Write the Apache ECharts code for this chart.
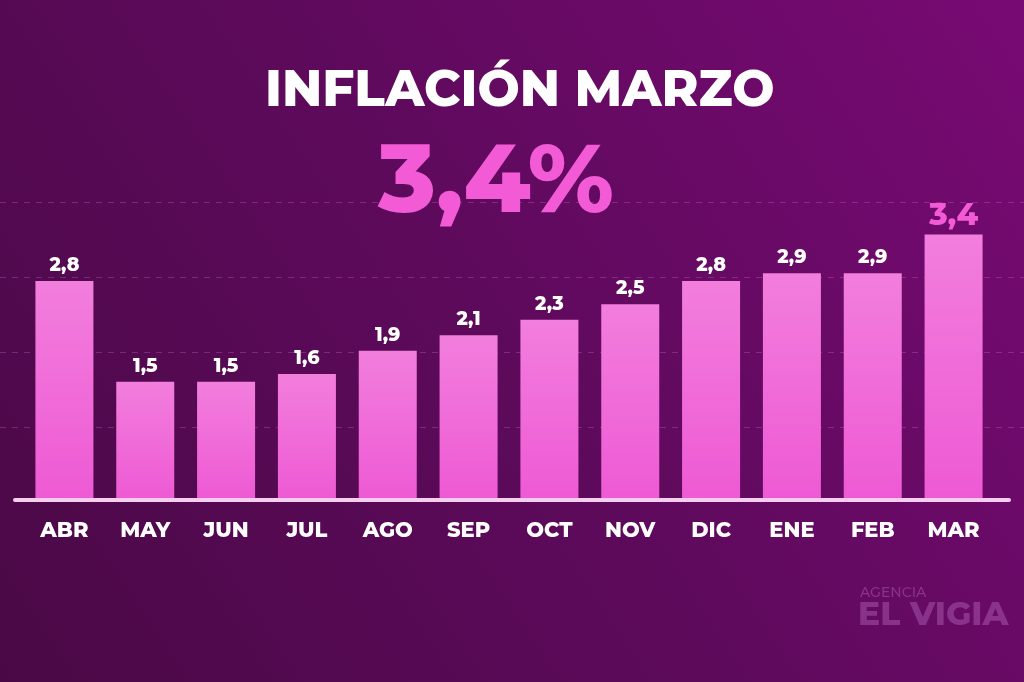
<!DOCTYPE html>
<html>
<head>
<meta charset="utf-8">
<script src="https://cdn.jsdelivr.net/npm/echarts@6/dist/echarts.min.js"></script>
<style>
html,body{margin:0;padding:0;background:#5a0a58;}
#chart{width:1024px;height:682px;}
</style>
</head>
<body>
<div id="chart"></div>
<script>
// Data
const months = ['ABR','MAY','JUN','JUL','AGO','SEP','OCT','NOV','DIC','ENE','FEB','MAR'];
const inflation = [2.8, 1.5, 1.5, 1.6, 1.9, 2.1, 2.3, 2.5, 2.8, 2.9, 2.9, 3.4];
const gridTicks = [0, 1, 2, 3, 4];
const titleText = 'INFLACIÓN MARZO';
const headlineText = '3,4%';

const FONT = '"Montserrat","Open Sans","Noto Sans",sans-serif';
const fmt = v => v.toFixed(1).replace('.', ',');
const lastIdx = inflation.length - 1;

const barData = inflation.map((v, i) => {
  if (i === lastIdx) {
    return {
      value: v,
      label: { color: '#f25ad6', fontSize: 31, fontWeight: 800, distance: 3 }
    };
  }
  return v;
});

const chart = echarts.init(document.getElementById('chart'), null, { renderer: 'canvas' });

chart.setOption({
  animation: false,
  backgroundColor: {
    type: 'linear', x: 0, y: 1, x2: 1, y2: 0,
    colorStops: [
      { offset: 0, color: '#4a0946' },
      { offset: 0.5, color: '#5e0a5c' },
      { offset: 1, color: '#780a74' }
    ]
  },
  graphic: [
    {
      type: 'text', left: 265, top: 66, z: 10,
      style: { text: titleText, fill: '#ffffff', font: '800 50px ' + FONT }
    },
    {
      type: 'text', top: 136, left: 378, z: 10,
      style: { text: headlineText, fill: '#f25ad6', font: '800 96px ' + FONT }
    },
    {
      type: 'text', left: 860, top: 586, z: 1,
      style: { text: 'AGENCIA', fill: 'rgba(190,110,200,0.40)', font: '500 14px ' + FONT }
    },
    {
      type: 'text', left: 858, top: 599, z: 1,
      style: { text: 'EL VIGIA', fill: 'rgba(190,110,200,0.40)', font: '800 33px ' + FONT }
    }
  ],
  grid: [
    { left: 0, right: 0, top: 202, bottom: 180 },
    { left: 15, right: 15, top: 188, bottom: 182 },
    { left: 24, right: 30, top: 188, bottom: 184 }
  ],
  xAxis: [
    { gridIndex: 0, type: 'category', data: months, show: false },
    {
      gridIndex: 1, type: 'category', data: months,
      axisLine: { show: true, lineStyle: { color: '#f7cdf0', width: 4 } },
      axisTick: { show: false }, axisLabel: { show: false }
    },
    {
      gridIndex: 2, type: 'category', data: months,
      axisLine: { show: false }, axisTick: { show: false },
      axisLabel: {
        color: '#ffffff', fontFamily: FONT, fontWeight: 800, fontSize: 21, margin: 22
      }
    }
  ],
  yAxis: [
    {
      gridIndex: 0, type: 'value', min: gridTicks[0], max: gridTicks[gridTicks.length - 1], interval: 1,
      axisLine: { show: false }, axisTick: { show: false }, axisLabel: { show: false },
      splitLine: { show: true, showMinLine: false, lineStyle: { color: 'rgba(220,110,215,0.30)', type: [6, 6], width: 1 } }
    },
    { gridIndex: 1, type: 'value', min: 0, max: 4, show: false, splitLine: { show: false } },
    { gridIndex: 2, type: 'value', min: 0, max: 4, show: false, splitLine: { show: false } }
  ],
  series: [
    {
      type: 'bar',
      xAxisIndex: 2, yAxisIndex: 2,
      data: barData,
      barWidth: 58,
      z: 3,
      itemStyle: {
        color: {
          type: 'linear', x: 0, y: 0, x2: 0, y2: 1,
          colorStops: [
            { offset: 0, color: '#f27edd' },
            { offset: 1, color: '#ee5ad4' }
          ]
        }
      },
      label: {
        show: true, position: 'top', distance: 6,
        color: '#ffffff', fontFamily: FONT, fontWeight: 800, fontSize: 19,
        formatter: p => fmt(p.value)
      }
    }
  ]
});
</script>
</body>
</html>
